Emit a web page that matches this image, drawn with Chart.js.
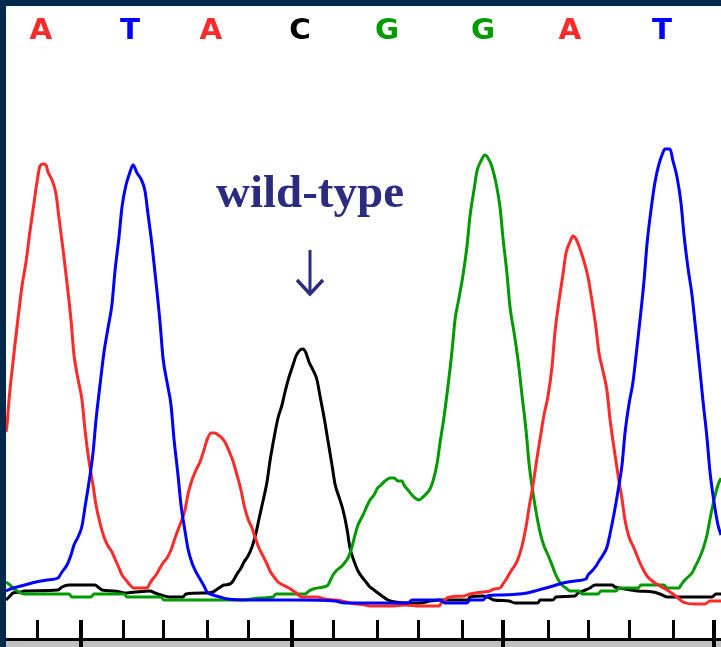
<!DOCTYPE html>
<html>
<head>
<meta charset="utf-8">
<script src="https://cdn.jsdelivr.net/npm/chart.js@4.4.1/dist/chart.umd.min.js"></script>
<style>
  html, body { margin: 0; padding: 0; background: #ffffff; overflow: hidden; }
  #chart { display: block; }
</style>
</head>
<body>
<canvas id="chart" width="721" height="647"></canvas>
<script>
// ---------------- base calls (top row) ----------------
const baseLetters = ['A', 'T', 'A', 'C', 'G', 'G', 'A', 'T'];
const baseScans = [35, 124, 205, 294, 381, 477, 564, 656];

// ruler ticks along the bottom (scan position), major every 5th
const rulerTicks = [31, 75, 117, 157, 201, 242, 286, 327, 371, 412, 456, 497, 542, 582, 623, 667, 708];
const rulerMajor = [75, 286, 497, 708];

// annotation
const noteText = 'wild-type';
const noteScan = 304;

// ---------------- traces: [scan, signal] ----------------
const traceA = [[0,178],[1,185],[3,210],[5,230],[9,266],[13,300],[16,324],[20,348],[24,379],[28,407],[31,428],[34,444],[37,446],[40,445],[42,438],[46,430],[50,416],[53,392],[57,361],[61,327],[65,290],[68,255],[72,231],[76,210],[79,180],[83,149],[87,125],[90,105],[94,87],[98,73],[102,64],[106,58],[109,51],[113,42],[116,35],[120,30],[124,25],[128,22],[134,22],[141,22],[144,27],[146,30],[150,35],[154,42],[157,47],[161,52],[165,60],[168,69],[172,80],[175,88],[179,100],[182,116],[186,130],[190,140],[194,148],[198,160],[201,170],[205,177],[209,177],[212,175],[216,172],[220,166],[223,159],[227,149],[231,135],[235,120],[238,105],[242,91],[246,82],[250,70],[253,62],[257,54],[261,46],[264,39],[268,33],[272,28],[277,25],[283,22],[289,18],[296,13],[311,13],[319,11],[329,10],[336,9],[344,7],[359,5],[366,4],[385,4],[399,5],[414,4],[433,4],[436,8],[444,13],[458,14],[464,16],[477,18],[484,19],[488,21],[494,22],[497,26],[501,32],[505,39],[509,45],[512,51],[516,64],[520,83],[523,102],[527,125],[531,152],[535,177],[538,195],[542,214],[546,243],[549,278],[553,309],[557,336],[560,357],[564,368],[567,374],[570,371],[573,364],[577,352],[582,333],[586,309],[590,282],[593,257],[597,239],[601,219],[604,191],[608,162],[612,135],[616,111],[619,90],[623,73],[627,64],[630,57],[634,47],[638,39],[641,34],[645,30],[649,27],[654,24],[661,20],[667,16],[672,12],[677,8],[689,6],[699,6],[704,9],[715,9]];

const traceT = [[0,19],[7,22],[15,24],[26,27],[41,30],[52,32],[56,38],[61,45],[65,55],[68,65],[72,73],[76,84],[79,103],[83,128],[87,157],[90,190],[94,225],[98,258],[102,282],[106,306],[109,339],[113,373],[116,403],[120,425],[124,438],[127,445],[131,437],[135,431],[139,419],[142,396],[146,365],[150,328],[154,288],[157,252],[161,228],[165,205],[168,171],[172,135],[175,105],[179,79],[182,61],[186,47],[190,38],[194,31],[198,24],[201,18],[207,15],[214,13],[222,11],[244,10],[294,10],[329,9],[339,7],[402,7],[406,10],[434,10],[439,7],[461,7],[464,10],[477,10],[481,14],[494,15],[521,17],[529,19],[536,21],[547,24],[557,27],[569,29],[580,31],[582,35],[586,39],[590,44],[593,49],[597,55],[601,63],[604,76],[608,96],[612,119],[616,145],[619,177],[623,206],[627,228],[630,254],[634,290],[638,329],[641,366],[645,400],[649,428],[653,446],[656,455],[659,461],[664,461],[667,449],[671,433],[675,407],[678,375],[682,342],[686,315],[689,287],[693,249],[697,209],[701,172],[704,138],[708,108],[712,85],[715,75]];

const traceC = [[0,10],[4,14],[7,17],[15,18],[18,19],[52,20],[56,23],[63,25],[89,25],[92,23],[96,20],[107,19],[114,18],[118,17],[129,18],[144,19],[149,17],[155,15],[164,13],[177,13],[180,16],[202,17],[207,18],[210,20],[213,22],[218,25],[224,26],[227,29],[231,36],[235,42],[238,48],[242,54],[246,63],[250,77],[253,91],[257,109],[261,128],[264,149],[268,172],[272,192],[276,205],[279,218],[283,233],[287,245],[290,254],[294,260],[297,261],[300,257],[303,248],[307,240],[311,230],[314,214],[318,193],[322,169],[326,145],[329,126],[333,113],[337,100],[341,81],[344,62],[348,49],[352,39],[356,33],[360,28],[364,23],[368,20],[372,17],[376,14],[382,10],[389,8],[403,7],[414,7],[424,9],[436,10],[462,10],[464,13],[477,14],[484,12],[488,10],[503,9],[509,7],[532,7],[534,10],[547,10],[550,13],[569,14],[572,17],[577,19],[584,22],[589,25],[606,25],[609,23],[619,21],[632,19],[647,18],[654,16],[662,13],[706,13],[710,16],[715,16]];

const traceG = [[0,28],[4,25],[7,22],[11,19],[18,16],[63,16],[66,13],[85,13],[88,16],[118,16],[121,13],[155,13],[158,10],[222,10],[234,10],[255,12],[267,13],[270,16],[299,16],[303,19],[307,21],[317,23],[322,25],[325,31],[327,35],[331,40],[336,44],[340,49],[342,52],[346,63],[349,75],[352,85],[357,95],[361,104],[364,110],[368,115],[371,121],[375,125],[379,129],[384,132],[388,132],[392,129],[396,129],[398,125],[402,120],[406,115],[409,112],[413,110],[417,113],[420,116],[424,121],[427,129],[431,146],[434,167],[438,193],[442,224],[446,259],[449,290],[453,312],[457,335],[461,364],[464,394],[468,420],[471,439],[475,449],[479,455],[482,452],[486,443],[490,427],[494,403],[497,372],[501,336],[504,303],[508,278],[512,250],[516,215],[520,180],[523,147],[527,117],[531,93],[534,78],[538,64],[542,55],[546,45],[549,37],[553,29],[557,24],[560,22],[564,19],[573,19],[576,16],[592,16],[595,19],[610,19],[613,22],[632,22],[635,25],[658,25],[661,22],[673,22],[675,25],[678,29],[682,33],[686,37],[689,43],[693,51],[697,61],[701,75],[704,91],[708,110],[712,125],[715,132]];

const baseColors = { A: '#ff2a2a', T: '#0000ff', C: '#000000', G: '#009a00' };

function toPoints(arr) {
    return arr.map(p => ({ x: p[0], y: p[1] }));
}

function traceSet(label, arr) {
    return {
        label: label,
        data: toPoints(arr),
        borderColor: baseColors[label],
        borderWidth: 3,
        pointRadius: 0,
        fill: false,
        cubicInterpolationMode: 'monotone'
    };
}

// background, frame, base letters, ruler and note
const chromaDecor = {
    id: 'chromaDecor',
    beforeDraw(chart) {
        const ctx = chart.ctx;
        ctx.save();
        ctx.fillStyle = '#ffffff';
        ctx.fillRect(0, 0, chart.width, chart.height);
        ctx.restore();
    },
    afterDraw(chart) {
        const ctx = chart.ctx;
        const xs = chart.scales.x;
        ctx.save();

        // base call letters (slightly widened, like the bitmap font)
        ctx.font = 'bold 28px "DejaVu Sans", "Liberation Sans", sans-serif';
        ctx.textAlign = 'center';
        ctx.textBaseline = 'alphabetic';
        baseLetters.forEach((b, i) => {
            ctx.save();
            ctx.translate(xs.getPixelForValue(baseScans[i]), 39);
            ctx.scale(1.05, 1);
            ctx.fillStyle = baseColors[b];
            ctx.fillText(b, 0, 0);
            ctx.restore();
        });

        // ruler
        ctx.fillStyle = '#c0c0c0';
        ctx.fillRect(6, 641, chart.width - 6, 6);
        ctx.fillStyle = '#000000';
        ctx.fillRect(6, 638, chart.width - 6, 3);
        rulerTicks.forEach(t => {
            const px = Math.round(xs.getPixelForValue(t));
            if (rulerMajor.includes(t)) {
                ctx.fillRect(px - 2, 620, 4, 27);
            } else {
                ctx.fillRect(px - 1, 620, 3, 18);
            }
        });

        // annotation
        const nx = xs.getPixelForValue(noteScan);
        ctx.fillStyle = '#2b2b80';
        ctx.font = 'bold 47px "Liberation Serif", "Times New Roman", serif';
        ctx.textAlign = 'center';
        ctx.fillText(noteText, nx, 207);
        ctx.strokeStyle = '#2b2b80';
        ctx.lineWidth = 3;
        ctx.beginPath();
        ctx.moveTo(nx, 250);
        ctx.lineTo(nx, 293);
        ctx.stroke();
        ctx.lineWidth = 3.5;
        ctx.beginPath();
        ctx.moveTo(nx - 13, 280);
        ctx.lineTo(nx, 294);
        ctx.lineTo(nx + 13, 280);
        ctx.stroke();

        // navy frame
        ctx.fillStyle = '#02284b';
        ctx.fillRect(0, 0, 6, chart.height);
        ctx.fillRect(0, 0, chart.width, 6);
        ctx.restore();
    }
};

new Chart(document.getElementById('chart').getContext('2d'), {
    type: 'line',
    data: {
        datasets: [
            traceSet('T', traceT),
            traceSet('A', traceA),
            traceSet('G', traceG),
            traceSet('C', traceC)
        ]
    },
    options: {
        responsive: false,
        animation: false,
        events: [],
        layout: { padding: { left: 6, right: 0, top: 10, bottom: 37 } },
        plugins: {
            legend: { display: false },
            tooltip: { enabled: false }
        },
        scales: {
            x: { type: 'linear', min: 0, max: 715, display: false },
            y: { min: 0, max: 600, display: false }
        }
    },
    plugins: [chromaDecor]
});
</script>
</body>
</html>
